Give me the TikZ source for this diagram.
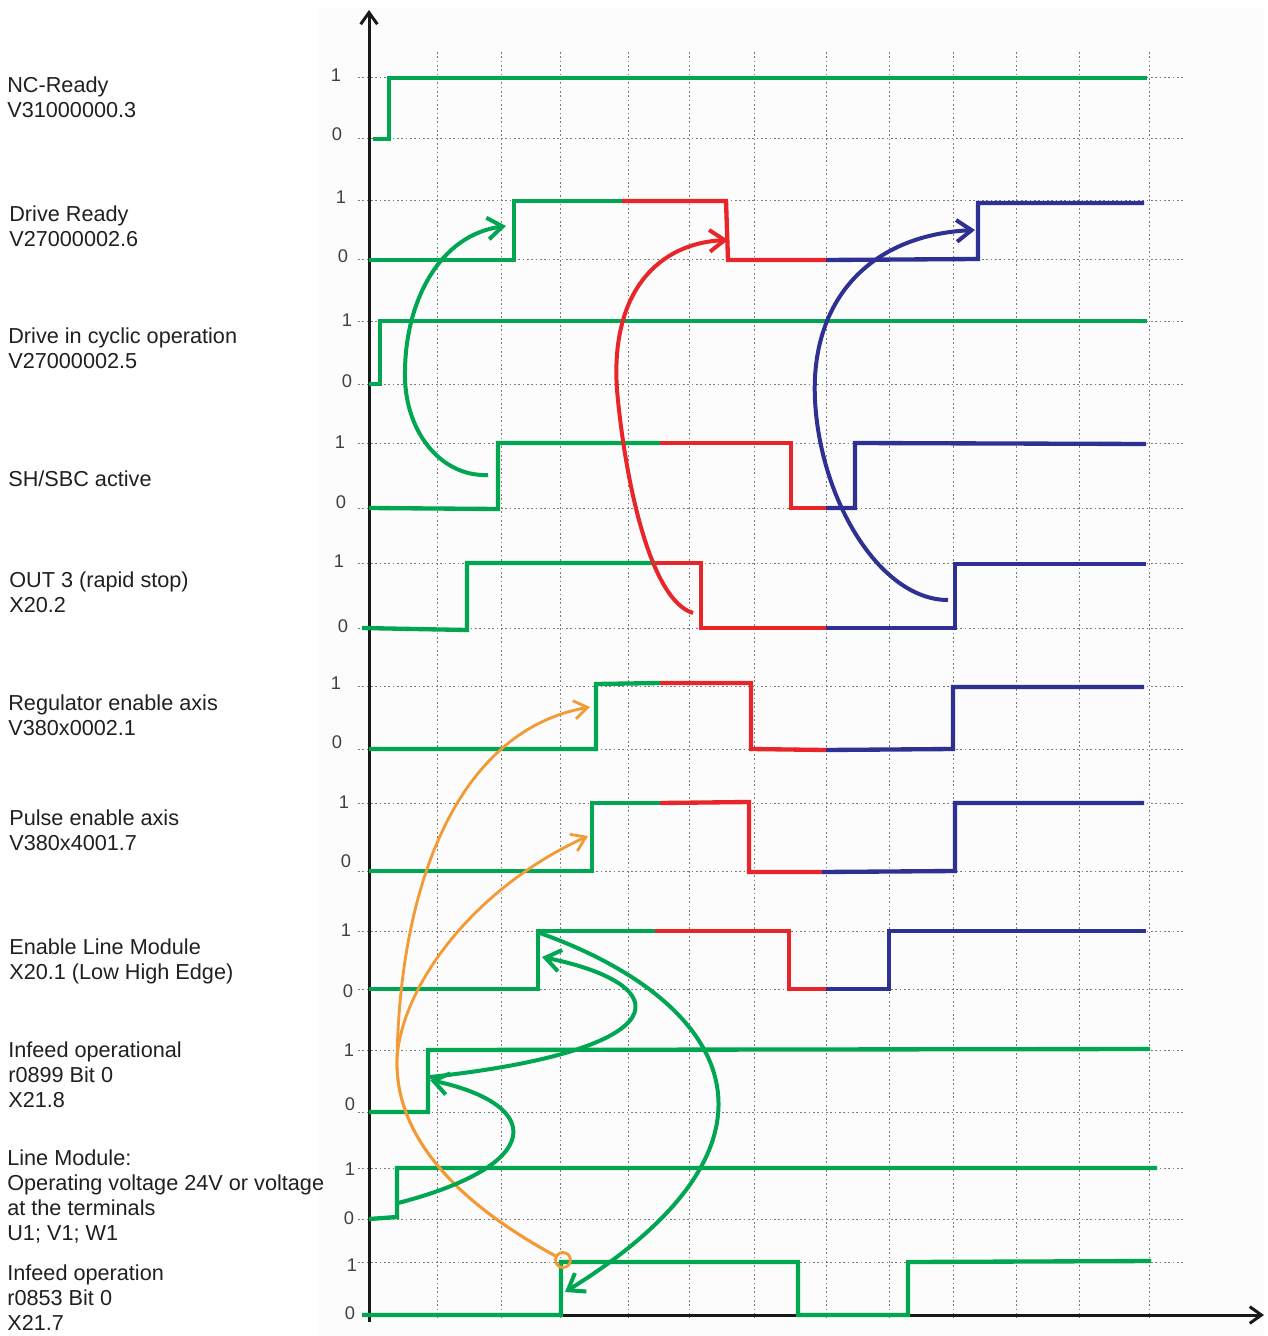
\documentclass[tikz,border=0pt]{standalone}
\usepackage{fontspec}
\setmainfont{Liberation Sans}
\usetikzlibrary{arrows.meta}
\definecolor{sgreen}{HTML}{00A651}
\definecolor{sred}{HTML}{E8262A}
\definecolor{sblue}{HTML}{2E3192}
\definecolor{sorange}{HTML}{F39A35}
\definecolor{gridc}{HTML}{7A7A7A}
\definecolor{txt}{HTML}{231F20}
\begin{document}
\begin{tikzpicture}[x=0.6pt,y=-0.6pt,
  gridline/.style={draw=gridc,line width=0.6pt,dash pattern=on 1pt off 1.6pt},
  wave/.style={line width=2.6pt,line join=miter},
  gw/.style={wave,draw=sgreen},
  rw/.style={wave,draw=sred},
  bw/.style={wave,draw=sblue},
  tick/.style={font=\fontsize{11}{13}\selectfont,text=black!75,inner sep=0},
  lbl/.style={anchor=north west,inner sep=0,align=left,font=\fontsize{13}{15}\selectfont,text=txt},
  axisline/.style={draw=black!90,line width=1.8pt,-{Straight Barb[length=7pt,width=10pt]}},
  garrow/.style={draw=sgreen,line width=2.4pt,-{Straight Barb[length=9pt,width=13pt]}},
  rarrow/.style={draw=sred,line width=2.4pt,-{Straight Barb[length=9pt,width=13pt]}},
  barrow/.style={draw=sblue,line width=2.4pt,-{Straight Barb[length=9pt,width=13pt]}},
  oarrow/.style={draw=sorange,line width=1.7pt,-{Straight Barb[length=8pt,width=11pt]}}
]
\useasboundingbox (0,0) rectangle (1267,1336);
\fill[black!1.2] (318,8) rectangle (1264,1336);

% grid
\foreach \x in {437,501,560,628,689,754,826,889,953,1016,1079,1149}
  \draw[gridline] (\x,52) -- (\x,1318);
\foreach \y in {78,139,201,260,321,384,443,508,563,628,686,749,803,871,931,989,1050,1112,1168,1219,1262}
  \draw[gridline] (358,\y) -- (1185,\y);

% axes
\coordinate (yb) at (369,1322);
\coordinate (yt) at (369,10);
\coordinate (xl) at (362,1315);
\coordinate (xr) at (1264,1315);
\draw[axisline] (yb) -- (yt);
\draw[axisline] (xl) -- (xr);

% tick labels
\foreach \n/\x/\y/\t in {a/336/75/1,b/337/134/0,c/341/197/1,d/343/256/0,e/347/320/1,f/347/381/0,
  g/340/442/1,h/341/502/0,i/339/561/1,j/343/626/0,k/336/683/1,l/337/742/0,m/344/802/1,n/346/861/0,
  o/346/930/1,p/348/991/0,q/349/1050/1,r/350/1104/0,s/350/1169/1,t/349/1218/0,u/352/1265/1,v/350/1313/0}
  \node[tick] (tk\n) at (\x,\y) {\t};

% labels
\node[lbl] (l1) at (7,76) {NC-Ready\\V31000000.3};
\node[lbl] (l2) at (9,205) {Drive Ready\\V27000002.6};
\node[lbl] (l3) at (8,327) {Drive in cyclic operation\\V27000002.5};
\node[lbl] (l4) at (8,470) {SH/SBC active};
\node[lbl] (l5) at (9,571) {OUT 3 (rapid stop)\\X20.2};
\node[lbl] (l6) at (8,694) {Regulator enable axis\\V380x0002.1};
\node[lbl] (l7) at (9,809) {Pulse enable axis\\V380x4001.7};
\node[lbl] (l8) at (9,938) {Enable Line Module\\X20.1 (Low High Edge)};
\node[lbl] (l9) at (8,1041) {Infeed operational\\r0899 Bit 0\\X21.8};
\node[lbl] (l10) at (7,1149) {Line Module:\\Operating voltage 24V or voltage\\at the terminals\\U1; V1; W1};
\node[lbl] (l11) at (7,1264) {Infeed operation\\r0853 Bit 0\\X21.7};

% waveforms
\draw[gw] (373,139) -- (389,139) -- (389,78) -- (1147,78);

\draw[gw] (369,260) -- (514,260) -- (514,201) -- (622,201);
\draw[rw] (622,201) -- (726,201) -- (728,260) -- (826,260);
\draw[bw] (826,260) -- (978,259) -- (978,203) -- (1144,203);

\draw[gw] (369,384) -- (380,384) -- (380,321) -- (1147,321);

\draw[gw] (369,508) -- (498,509) -- (498,443) -- (660,443);
\draw[rw] (660,443) -- (791,443) -- (791,508) -- (826,508);
\draw[bw] (826,508) -- (855,508) -- (855,443) -- (1146,444);

\draw[gw] (362,628) -- (467,630) -- (467,563) -- (656,563);
\draw[rw] (656,563) -- (701,563) -- (701,628) -- (826,628);
\draw[bw] (826,628) -- (955,628) -- (955,564) -- (1146,564);

\draw[gw] (369,749) -- (596,749) -- (596,684) -- (660,683);
\draw[rw] (660,683) -- (751,683) -- (751,749) -- (826,750);
\draw[bw] (826,750) -- (953,749) -- (953,687) -- (1144,687);

\draw[gw] (369,871) -- (592,871) -- (592,803) -- (660,803);
\draw[rw] (660,803) -- (749,802) -- (749,872) -- (822,872);
\draw[bw] (822,872) -- (955,871) -- (955,803) -- (1144,803);

\draw[gw] (369,989) -- (538,989) -- (538,931) -- (655,931);
\draw[rw] (655,931) -- (789,931) -- (789,989) -- (826,989);
\draw[bw] (826,989) -- (889,989) -- (889,931) -- (1146,931);

\draw[gw] (369,1112) -- (428,1112) -- (428,1050) -- (1150,1049);

\draw[gw] (369,1219) -- (397,1217) -- (397,1168) -- (1157,1168);

\draw[gw] (362,1315) -- (561,1315) -- (561,1262) -- (798,1262) -- (798,1315) -- (908,1315) -- (908,1262) -- (1151,1261);

% curved arrows (top)
\draw[garrow] (488,475) .. controls (440,477) and (403,430) .. (405,370) .. controls (406,300) and (440,235) .. (506,226);
\draw[rarrow] (693,613) .. controls (650,600) and (625,480) .. (617,390) .. controls (610,290) and (660,243) .. (728,240);
\draw[barrow] (948,600) .. controls (880,600) and (820,500) .. (815,400) .. controls (810,300) and (870,235) .. (975,230);

% orange arrows
\node[draw=sorange,line width=1.7pt,circle,minimum size=9pt,inner sep=0] (oc) at (563,1260) {};
\draw[oarrow] (oc) .. controls (480,1215) and (395,1150) .. (397,1060) .. controls (400,880) and (460,730) .. (590,707);
\draw[oarrow] (oc) .. controls (480,1215) and (395,1150) .. (397,1060) .. controls (400,990) and (470,890) .. (588,836);

% green arrows (bottom)
\draw[garrow] (398,1203) .. controls (545,1165) and (545,1105) .. (430,1080);
\draw[garrow] (430,1077) .. controls (680,1050) and (680,985) .. (542,957);
\draw[garrow] (537,932) .. controls (730,1000) and (810,1140) .. (565,1292);
\end{tikzpicture}
\end{document}
